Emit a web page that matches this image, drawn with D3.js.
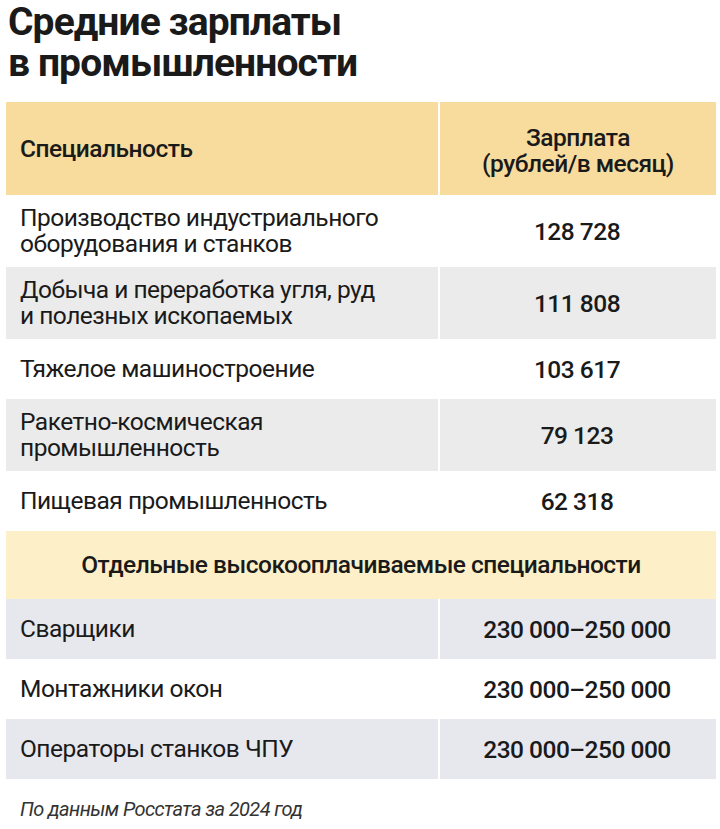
<!DOCTYPE html>
<html><head><meta charset="utf-8">
<script src="https://cdn.jsdelivr.net/npm/d3@7"></script>
<style>body{margin:0;background:#fff}</style></head>
<body><svg id="c" width="720" height="829"></svg>
<script>
const title = ["Средние зарплаты", "в промышленности"];
const headers = ["Специальность", ["Зарплата", "(рублей/в месяц)"]];
const industries = [["Производство индустриального", "оборудования и станков"], ["Добыча и переработка угля, руд", "и полезных ископаемых"], ["Тяжелое машиностроение"], ["Ракетно-космическая", "промышленность"], ["Пищевая промышленность"]];
const salaries = ["128 728", "111 808", "103 617", "79 123", "62 318"];
const subheader = "Отдельные высокооплачиваемые специальности";
const jobs = ["Сварщики", "Монтажники окон", "Операторы станков ЧПУ"];
const jobSalaries = ["230 000–250 000", "230 000–250 000", "230 000–250 000"];
const source = "По данным Росстата за 2024 год";

const svg = d3.select("#c");
const F = "Roboto, 'Noto Sans', sans-serif";
const L = 6, R = 716, D = 439;
const x = d3.scaleLinear().domain([0, 1]).range([L, R]);

svg.selectAll("text.t").data(title).join("text").attr("x", 8).attr("y", (d, i) => 35 + i * 41)
  .attr("font-family", F).attr("font-weight", 700).attr("font-size", 39).attr("fill", "#1a1a1a").attr("letter-spacing", -0.9).text(d => d);

const rows = [];
rows.push({type: "head", h: 93, fill: "#f8dc9e"});
industries.forEach((d, i) => rows.push({type: "ind", left: d, right: salaries[i], h: d.length > 1 ? 72 : 60, fill: i % 2 ? "#ebebeb" : "#ffffff"}));
rows.push({type: "sub", h: 68, fill: "#fdf0c9"});
jobs.forEach((d, i) => rows.push({type: "job", left: [d], right: jobSalaries[i], h: 60, fill: i % 2 ? "#ffffff" : "#e7e7ee"}));
let y0 = 102;
rows.forEach(r => { r.y = y0; y0 += r.h; });

const g = svg.append("g");
g.selectAll("rect").data(rows).join("rect").attr("x", x(0)).attr("width", x(1) - x(0))
  .attr("y", d => d.y).attr("height", d => d.h).attr("fill", d => d.fill);
g.selectAll("line.div").data(rows.filter(r => r.type !== "sub")).join("line")
  .attr("x1", D).attr("x2", D).attr("y1", d => d.y).attr("y2", d => d.y + d.h).attr("stroke", "#fff").attr("stroke-width", 2);

const txt = (sel) => sel.attr("font-family", F).attr("font-size", 24.5).attr("fill", "#1a1a1a").attr("letter-spacing", -0.5);
const head = rows[0];
txt(g.append("text")).attr("x", 20).attr("y", head.y + head.h / 2 + 8).attr("font-weight", 500).text(headers[0]);
txt(g.append("text").selectAll("tspan").data(headers[1]).join("tspan").attr("x", 578).attr("text-anchor", "middle")
  .attr("y", (d, i) => head.y + 44 + i * 26).attr("font-weight", 500).text(d => d));

rows.filter(r => r.type === "ind" || r.type === "job").forEach(r => {
  const n = r.left.length;
  const t = txt(g.append("text"));
  t.selectAll("tspan").data(r.left).join("tspan").attr("x", 20)
    .attr("y", (d, i) => r.y + r.h / 2 + 8 - (n - 1) * 13 + i * 26).text(d => d);
  txt(g.append("text")).attr("x", 577).attr("text-anchor", "middle").attr("y", r.y + r.h / 2 + 9)
    .attr("font-weight", 500).text(r.right);
});
const sub = rows.find(r => r.type === "sub");
txt(g.append("text")).attr("x", 361).attr("text-anchor", "middle").attr("y", sub.y + sub.h / 2 + 8).attr("font-weight", 500).text(subheader);

svg.append("text").attr("x", 20).attr("y", 816).attr("font-family", F).attr("font-style", "italic")
  .attr("font-size", 20).attr("fill", "#333").attr("letter-spacing", -0.6).text(source);
</script></body></html>
